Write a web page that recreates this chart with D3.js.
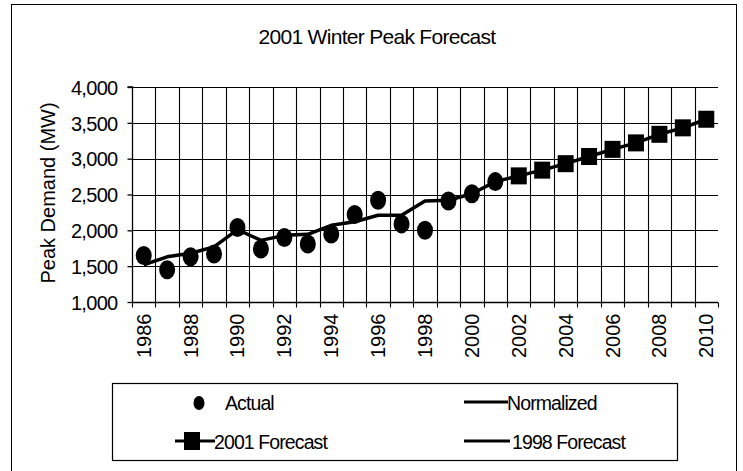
<!DOCTYPE html>
<html>
<head>
<meta charset="utf-8">
<script src="https://cdn.jsdelivr.net/npm/d3@7/dist/d3.min.js"></script>
<style>
  html, body { margin: 0; padding: 0; background: #fff; }
  svg { display: block; }
  text { font-family: "Liberation Sans", Arial, sans-serif; fill: #000; }
</style>
</head>
<body>
<svg id="chart" width="743" height="471"></svg>
<script>
// ---- Data ----
const years = ["1986","1987","1988","1989","1990","1991","1992","1993","1994","1995","1996","1997","1998","1999","2000","2001","2002","2003","2004","2005","2006","2007","2008","2009","2010"];
const actualYears = ["1986","1987","1988","1989","1990","1991","1992","1993","1994","1995","1996","1997","1998","1999","2000","2001"];
const actualValues = [1650, 1450, 1630, 1670, 2040, 1740, 1900, 1810, 1950, 2220, 2420, 2090, 2000, 2410, 2510, 2680];
const normalizedYears = ["1986","1987","1988","1989","1990","1991","1992","1993","1994","1995","1996","1997","1998","1999","2000","2001"];
const normalizedValues = [1520, 1630, 1680, 1770, 2010, 1860, 1930, 1945, 2070, 2120, 2210, 2210, 2410, 2420, 2510, 2680];
const forecast2001Years = ["2002","2003","2004","2005","2006","2007","2008","2009","2010"];
const forecast2001Values = [2760, 2840, 2930, 3030, 3130, 3220, 3340, 3430, 3550];
const yTicks = [1000, 1500, 2000, 2500, 3000, 3500, 4000];
const xTickLabels = ["1986","1988","1990","1992","1994","1996","1998","2000","2002","2004","2006","2008","2010"];
const legendLabels = ["Actual", "Normalized", "2001 Forecast", "1998 Forecast"];
const titleText = "2001 Winter Peak Forecast";
const yTitle = "Peak Demand (MW)";

// ---- Layout ----
const svg = d3.select("#chart");
const plot = { left: 132, right: 718, top: 87, bottom: 302 };

const x = d3.scaleBand().domain(years).range([plot.left, plot.right]).padding(0);
const y = d3.scaleLinear().domain([1000, 4000]).range([plot.bottom, plot.top]);
const cx = d => x(d) + x.bandwidth() / 2;

// outer border
svg.append("rect").attr("x", 11.5).attr("y", 4.5).attr("width", 725).attr("height", 480)
  .attr("fill", "none").attr("stroke", "#000").attr("stroke-width", 1);

// title
svg.append("text").attr("x", 377).attr("y", 44).attr("text-anchor", "middle")
  .style("font-size", "21px").style("letter-spacing", "-0.7px").text(titleText);

// horizontal gridlines
svg.append("g").selectAll("line").data(yTicks.filter(v => v > 1000)).join("line")
  .attr("x1", plot.left).attr("x2", plot.right)
  .attr("y1", d => Math.round(y(d)) + 0.5).attr("y2", d => Math.round(y(d)) + 0.5)
  .attr("stroke", "#000").attr("stroke-width", 1.2);

// vertical gridlines at category boundaries
const bounds = d3.range(1, years.length).map(i => plot.left + i * x.bandwidth());
svg.append("g").selectAll("line").data(bounds).join("line")
  .attr("x1", d => Math.round(d) + 0.5).attr("x2", d => Math.round(d) + 0.5)
  .attr("y1", plot.top).attr("y2", plot.bottom)
  .attr("stroke", "#000").attr("stroke-width", 1.1);

// y axis
const yAxis = svg.append("g").attr("transform", `translate(${plot.left + 0.5},0)`)
  .call(d3.axisLeft(y).tickValues(yTicks).tickSize(5).tickPadding(10).tickFormat(d3.format(",")));
yAxis.select(".domain").attr("stroke", "#000").attr("stroke-width", 1.3).attr("d", `M-5,${plot.top}H0V${plot.bottom}`);
yAxis.selectAll(".tick line").attr("stroke", "#000").attr("stroke-width", 1.3);
yAxis.selectAll(".tick text").style("font-size", "20px").style("letter-spacing", "-0.7px")
  .attr("font-family", null).attr("dy", "0.36em");

// x axis (ticks at category boundaries)
const xAxisG = svg.append("g").attr("transform", `translate(0,${plot.bottom + 0.5})`);
xAxisG.append("line").attr("x1", plot.left).attr("x2", plot.right).attr("y1", 0).attr("y2", 0)
  .attr("stroke", "#000").attr("stroke-width", 1.6);
const allBounds = d3.range(0, years.length + 1).map(i => plot.left + i * x.bandwidth());
xAxisG.selectAll("line.tk").data(allBounds).join("line").attr("class", "tk")
  .attr("x1", d => Math.round(d) + 0.5).attr("x2", d => Math.round(d) + 0.5).attr("y1", 0).attr("y2", 5)
  .attr("stroke", "#000").attr("stroke-width", 1.1);
xAxisG.selectAll("text").data(xTickLabels).join("text")
  .attr("transform", d => `translate(${cx(d) + 7},11) rotate(-90)`)
  .attr("text-anchor", "end")
  .style("font-size", "20px")
  .text(d => d);

// y axis title
svg.append("text").attr("transform", `translate(55,193) rotate(-90)`).attr("text-anchor", "middle")
  .style("font-size", "20px").text(yTitle);

// lines
const line = d3.line().x(d => cx(d[0])).y(d => y(d[1]));
const normPts = normalizedYears.map((d, i) => [d, normalizedValues[i]]);
svg.append("path").datum(normPts).attr("d", line).attr("fill", "none")
  .attr("stroke", "#000").attr("stroke-width", 3.5).attr("stroke-linejoin", "round");

const fcPts = [normPts[normPts.length - 1]].concat(forecast2001Years.map((d, i) => [d, forecast2001Values[i]]));
svg.append("path").datum(fcPts).attr("d", line).attr("fill", "none")
  .attr("stroke", "#000").attr("stroke-width", 3.5).attr("stroke-linejoin", "round");

// forecast squares
svg.append("g").selectAll("rect").data(forecast2001Years.map((d, i) => [d, forecast2001Values[i]])).join("rect")
  .attr("x", d => cx(d[0]) - 8).attr("y", d => y(d[1]) - 8.5).attr("width", 16).attr("height", 17)
  .attr("fill", "#000");

// actual dots
svg.append("g").selectAll("ellipse").data(actualYears.map((d, i) => [d, actualValues[i]])).join("ellipse")
  .attr("cx", d => cx(d[0])).attr("cy", d => y(d[1])).attr("rx", 8).attr("ry", 9.5)
  .attr("fill", "#000");

// legend
const lg = svg.append("g");
const lgFont = "19.5px", lgSpace = "-0.9px";
lg.append("rect").attr("x", 112.5).attr("y", 383.5).attr("width", 565).attr("height", 77)
  .attr("fill", "#fff").attr("stroke", "#000").attr("stroke-width", 1.2);
// Actual
lg.append("ellipse").attr("cx", 199).attr("cy", 403).attr("rx", 5.5).attr("ry", 7).attr("fill", "#000");
lg.append("text").attr("x", 225).attr("y", 410).style("font-size", lgFont).style("letter-spacing", lgSpace).text(legendLabels[0]);
// Normalized
lg.append("line").attr("x1", 464).attr("x2", 508).attr("y1", 402).attr("y2", 402).attr("stroke", "#000").attr("stroke-width", 3);
lg.append("text").attr("x", 507).attr("y", 410).style("font-size", lgFont).style("letter-spacing", lgSpace).text(legendLabels[1]);
// 2001 Forecast
lg.append("line").attr("x1", 175).attr("x2", 215).attr("y1", 441).attr("y2", 441).attr("stroke", "#000").attr("stroke-width", 3);
lg.append("rect").attr("x", 184).attr("y", 432).attr("width", 16).attr("height", 18).attr("fill", "#000");
lg.append("text").attr("x", 214).attr("y", 449).style("font-size", lgFont).style("letter-spacing", lgSpace).text(legendLabels[2]);
// 1998 Forecast
lg.append("line").attr("x1", 464).attr("x2", 510).attr("y1", 441).attr("y2", 441).attr("stroke", "#000").attr("stroke-width", 3);
lg.append("text").attr("x", 512).attr("y", 449).style("font-size", lgFont).style("letter-spacing", lgSpace).text(legendLabels[3]);
</script>
</body>
</html>
